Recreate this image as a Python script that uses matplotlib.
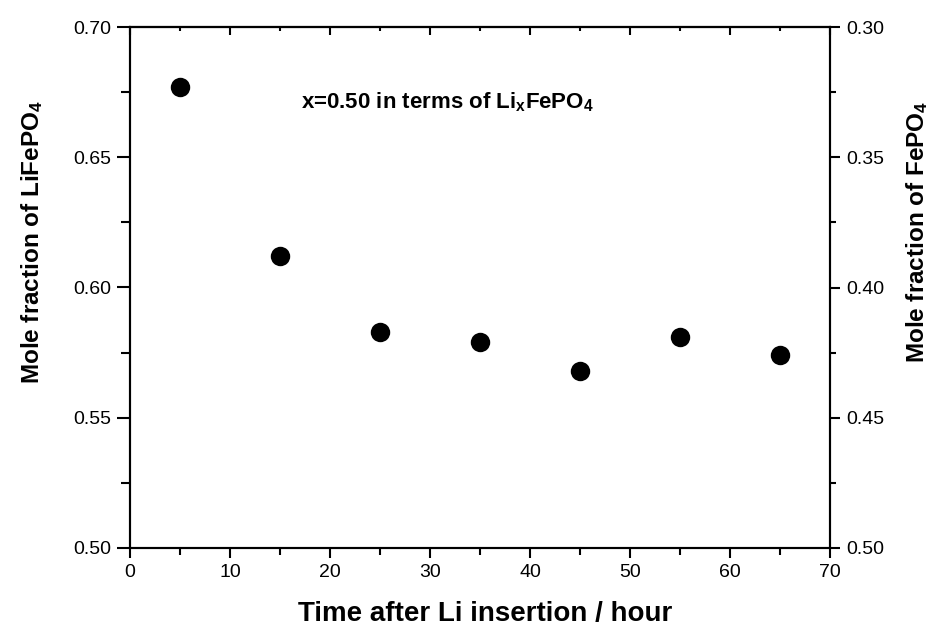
#%%
# Import
import numpy as np
import matplotlib
matplotlib.use('Agg')
import matplotlib.pyplot as plt
from matplotlib.ticker import MultipleLocator, FormatStrFormatter


#%%
# Data

time_h = np.array([5, 15, 25, 35, 45, 55, 65])                            # hour
x_LiFePO4 = np.array([0.677, 0.612, 0.583, 0.579, 0.568, 0.581, 0.574])   # mole fraction

xlabel = 'Time after Li insertion / hour'
ylabel_left = r'Mole fraction of LiFePO$_{\mathregular{4}}$'
ylabel_right = r'Mole fraction of FePO$_{\mathregular{4}}$'
note = r'x=0.50 in terms of Li$_{\mathregular{x}}$FePO$_{\mathregular{4}}$'


#%%
# Fonts

plt.rcParams['font.family'] = ['Liberation Sans', 'DejaVu Sans']
plt.rcParams['mathtext.fontset'] = 'custom'
plt.rcParams['mathtext.rm'] = 'Liberation Sans:bold'
plt.rcParams['mathtext.it'] = 'Liberation Sans:bold'
plt.rcParams['mathtext.bf'] = 'Liberation Sans:bold'


#%%
# Plot

fig = plt.figure(figsize=(9.47, 6.37), dpi=100)
ax = fig.add_axes([130/947, 1 - 548/637, 700/947, 521/637])

ax.plot(time_h, x_LiFePO4, 'ko', markersize=14, markeredgewidth=0)

ax.set_xlim(0, 70)
ax.set_ylim(0.50, 0.70)

ax.xaxis.set_major_locator(MultipleLocator(10))
ax.xaxis.set_minor_locator(MultipleLocator(5))
ax.yaxis.set_major_locator(MultipleLocator(0.05))
ax.yaxis.set_minor_locator(MultipleLocator(0.025))
ax.yaxis.set_major_formatter(FormatStrFormatter('%.2f'))

for s in ax.spines.values():
    s.set_linewidth(1.5)

ax.tick_params(which='both', direction='out', width=1.5, labelsize=14, pad=4,
               top=False, right=False)
ax.tick_params(axis='y', which='major', length=9.5)
ax.tick_params(axis='y', which='minor', length=6.5)
ax.tick_params(axis='x', which='major', length=7.5)
ax.tick_params(axis='x', which='minor', length=5)

# top ticks point inward
top = ax.secondary_xaxis('top')
top.xaxis.set_major_locator(MultipleLocator(10))
top.xaxis.set_minor_locator(MultipleLocator(5))
top.tick_params(which='both', direction='in', width=1.5, labeltop=False)
top.tick_params(which='major', length=6)
top.tick_params(which='minor', length=3)
top.spines['top'].set_linewidth(1.5)

# right axis: FePO4 fraction = 1 - LiFePO4 fraction
ax2 = ax.twinx()
ax2.set_ylim(0.50, 0.30)
ax2.yaxis.set_major_locator(MultipleLocator(0.05))
ax2.yaxis.set_minor_locator(MultipleLocator(0.025))
ax2.yaxis.set_major_formatter(FormatStrFormatter('%.2f'))
ax2.tick_params(which='both', direction='out', width=1.5, labelsize=14, pad=4)
ax2.tick_params(which='major', length=7.5)
ax2.tick_params(which='minor', length=4)
for s in ax2.spines.values():
    s.set_linewidth(1.5)

ax.text(31.7, 0.671, note, fontsize=16, fontweight='bold', ha='center', va='center')

fig.text(485/947, 1 - 614/637, xlabel, fontsize=20, fontweight='bold',
         ha='center', va='center')
fig.text(32/947, 1 - 242/637, ylabel_left, fontsize=17.5, fontweight='bold',
         rotation=90, ha='center', va='center')
fig.text(917/947, 1 - 232/637, ylabel_right, fontsize=17.5, fontweight='bold',
         rotation=90, ha='center', va='center')

fig.savefig('out.png', dpi=100)
